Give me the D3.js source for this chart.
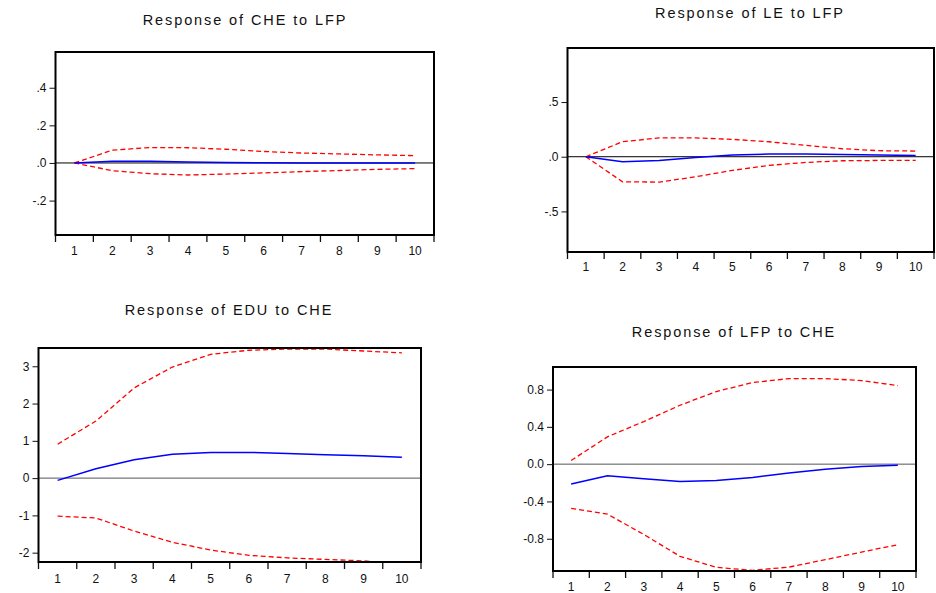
<!DOCTYPE html>
<html><head><meta charset="utf-8">
<script src="https://cdn.jsdelivr.net/npm/d3@7"></script>
<style>
html,body{margin:0;padding:0;background:#fff;}
svg{display:block;font-family:"Liberation Sans",Arial,sans-serif;}
</style></head>
<body><svg id="c" width="936" height="593"></svg>
<script>
// ---- data ----
const periods = [1,2,3,4,5,6,7,8,9,10];
const titles = ["Response of CHE to LFP","Response of LE to LFP","Response of EDU to CHE","Response of LFP to CHE"];

const cheLfp      = [0, 0.009, 0.009, 0.005, 0.002, 0.001, 0, 0, 0, 0];
const cheLfpUpper = [0, 0.068, 0.082, 0.081, 0.073, 0.061, 0.053, 0.048, 0.043, 0.039];
const cheLfpLower = [0, -0.041, -0.057, -0.064, -0.059, -0.053, -0.046, -0.040, -0.034, -0.030];

const leLfp       = [0, -0.046, -0.034, -0.006, 0.015, 0.025, 0.026, 0.021, 0.015, 0.012];
const leLfpUpper  = [0, 0.137, 0.172, 0.172, 0.159, 0.137, 0.104, 0.073, 0.055, 0.052];
const leLfpLower  = [0, -0.229, -0.232, -0.183, -0.125, -0.079, -0.052, -0.037, -0.034, -0.034];

const eduChe      = [-0.06, 0.25, 0.49, 0.64, 0.69, 0.69, 0.66, 0.63, 0.60, 0.56];
const eduCheUpper = [0.91, 1.53, 2.42, 2.98, 3.32, 3.43, 3.46, 3.46, 3.41, 3.36];
const eduCheLower = [-1.02, -1.07, -1.42, -1.72, -1.93, -2.07, -2.14, -2.18, -2.22, -2.30];

const lfpChe      = [-0.214, -0.125, -0.157, -0.186, -0.175, -0.143, -0.096, -0.054, -0.025, -0.011];
const lfpCheUpper = [0.039, 0.293, 0.457, 0.632, 0.779, 0.875, 0.918, 0.918, 0.896, 0.843];
const lfpCheLower = [-0.475, -0.536, -0.754, -0.989, -1.107, -1.139, -1.104, -1.025, -0.943, -0.864];

const yTicks1 = [-0.2, 0, 0.2, 0.4];        const yLabels1 = ["-.2", ".0", ".2", ".4"];
const yTicks2 = [-0.5, 0, 0.5];             const yLabels2 = ["-.5", ".0", ".5"];
const yTicks3 = [-2, -1, 0, 1, 2, 3];       const yLabels3 = ["-2", "-1", "0", "1", "2", "3"];
const yTicks4 = [-0.8, -0.4, 0, 0.4, 0.8];  const yLabels4 = ["-0.8", "-0.4", "0.0", "0.4", "0.8"];

// ---- layout ----
const panels = [
  {title: titles[0], mid: cheLfp, up: cheLfpUpper, lo: cheLfpLower, ticks: yTicks1, labels: yLabels1,
   x0: 55.5, x1: 434, y0: 52, y1: 235, dom: [-0.383, 0.590], tx: 245, ty: 25, lx: 255, zc: "#000"},
  {title: titles[1], mid: leLfp, up: leLfpUpper, lo: leLfpLower, ticks: yTicks2, labels: yLabels2,
   x0: 567.5, x1: 934, y0: 48, y1: 252, dom: [-0.871, 0.994], tx: 750, ty: 18, lx: 271, zc: "#000"},
  {title: titles[2], mid: eduChe, up: eduCheUpper, lo: eduCheLower, ticks: yTicks3, labels: yLabels3,
   x0: 38.5, x1: 421, y0: 348, y1: 562, dom: [-2.25, 3.49], tx: 229, ty: 315, lx: 583, zc: "#555"},
  {title: titles[3], mid: lfpChe, up: lfpCheUpper, lo: lfpCheLower, ticks: yTicks4, labels: yLabels4,
   x0: 553, x1: 916, y0: 367, y1: 571, dom: [-1.146, 1.042], tx: 734, ty: 337, lx: 591, zc: "#555"}
];

const svg = d3.select("#c");
svg.append("rect").attr("width",936).attr("height",593).attr("fill","#fff");

panels.forEach((p, i) => {
  const g = svg.append("g");
  const x = d3.scaleBand().domain(periods).range([p.x0, p.x1]);
  const y = d3.scaleLinear().domain(p.dom).range([p.y1, p.y0]);
  const cx = d => x(d) + x.bandwidth()/2;

  const clipId = "clip" + i;
  svg.append("clipPath").attr("id", clipId).append("rect")
    .attr("x", p.x0).attr("y", p.y0).attr("width", p.x1 - p.x0).attr("height", p.y1 - p.y0);

  // title
  g.append("text").attr("x", p.tx).attr("y", p.ty).attr("text-anchor","middle")
    .attr("font-size", 14.5).attr("letter-spacing", "1.9px").attr("fill","#111").text(p.title);

  // zero line
  g.append("line").attr("x1", p.x0).attr("x2", p.x1).attr("y1", y(0)).attr("y2", y(0))
    .attr("stroke", p.zc).attr("stroke-width", 1);

  const line = d3.line().x((d, k) => cx(periods[k])).y(d => y(d));
  const lg = g.append("g").attr("clip-path", `url(#${clipId})`);
  lg.append("path").datum(p.up).attr("d", line).attr("fill","none").attr("stroke","#ff0000")
    .attr("stroke-width",1.3).attr("stroke-dasharray","5,3");
  lg.append("path").datum(p.lo).attr("d", line).attr("fill","none").attr("stroke","#ff0000")
    .attr("stroke-width",1.3).attr("stroke-dasharray","5,3");
  lg.append("path").datum(p.mid).attr("d", line).attr("fill","none").attr("stroke","#0000ff")
    .attr("stroke-width",1.5);

  // frame
  g.append("rect").attr("x", p.x0).attr("y", p.y0).attr("width", p.x1 - p.x0).attr("height", p.y1 - p.y0)
    .attr("fill","none").attr("stroke","#000").attr("stroke-width",2);

  // y axis
  const ya = d3.axisLeft(y).tickValues(p.ticks).tickSize(6).tickPadding(3)
    .tickFormat((d, k) => p.labels[k]);
  const yg = g.append("g").attr("transform", `translate(${p.x0},0)`).call(ya);
  yg.select(".domain").remove();
  yg.selectAll("text").attr("font-size", 12).attr("fill","#111").attr("font-family","Liberation Sans, Arial, sans-serif");
  yg.selectAll("line").attr("stroke","#111");

  // x axis: ticks at band edges, labels at band centres
  const edges = periods.map(d => x(d)).concat([p.x1]);
  g.selectAll(null).data(edges).enter().append("line")
    .attr("x1", d => d).attr("x2", d => d).attr("y1", p.y1 + 1).attr("y2", p.y1 + 7)
    .attr("stroke","#111").attr("stroke-width",1.3);
  g.selectAll(null).data(periods).enter().append("text")
    .attr("x", d => cx(d)).attr("y", p.lx).attr("text-anchor","middle")
    .attr("font-size", 12).attr("fill","#111").text(d => d);
});
</script></body></html>
